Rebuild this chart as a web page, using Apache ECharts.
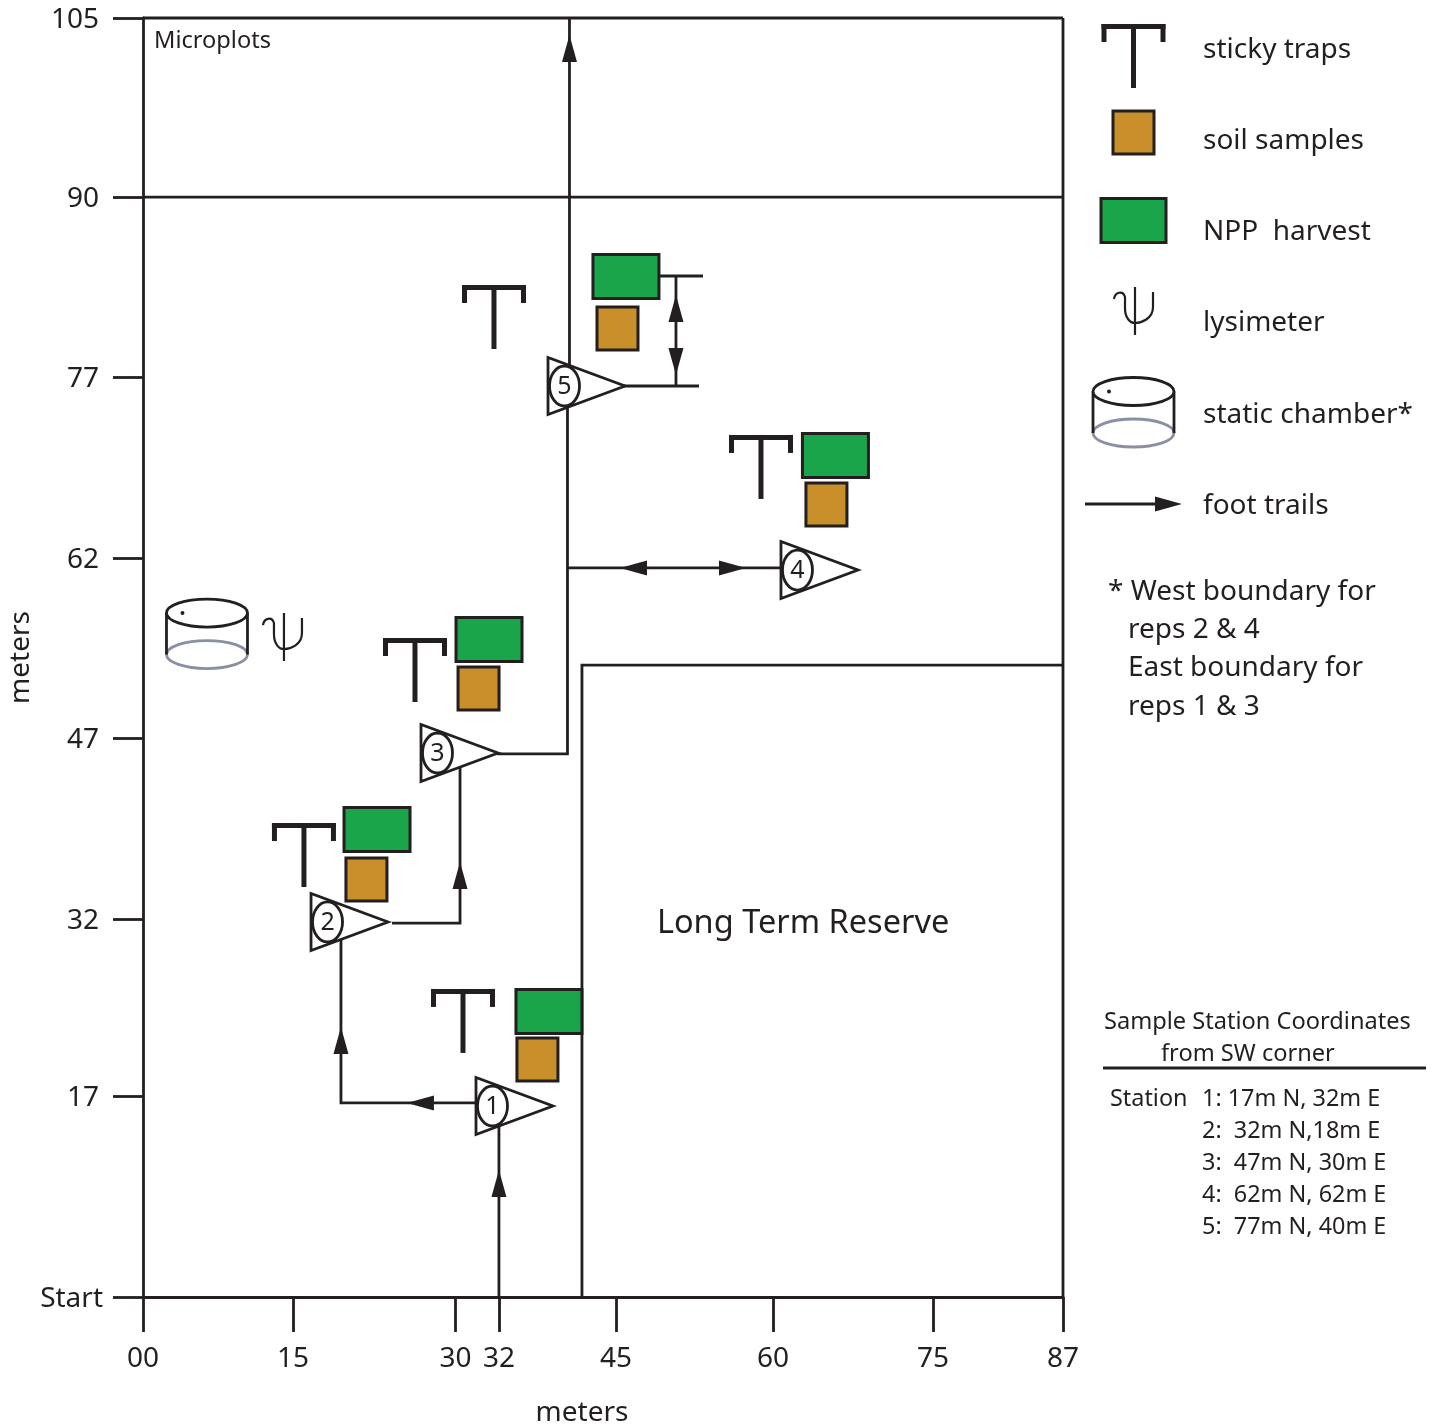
<!DOCTYPE html>
<html><head><meta charset="utf-8">
<style>html,body{margin:0;padding:0;background:#fff}#c{width:1435px;height:1427px}</style>
<script src="https://cdn.jsdelivr.net/npm/echarts@6/dist/echarts.min.js"></script>
</head><body><div id="c"></div>
<script>
// axis ticks (position along the drawn scale) and their printed labels
const xTicks = [0, 14.18, 29.55, 33.66, 44.73, 59.57, 74.70, 87];
const xTickLabels = ['00', '15', '30', '32', '45', '60', '75', '87'];
const yTicks = [0, 16.50, 31.03, 45.89, 60.67, 75.53, 90.30, 105];
const yTickLabels = ['Start', '17', '32', '47', '62', '77', '90', '105'];

// plot marks, in axis units
const stationNames = ['1', '2', '3', '4', '5'];
const stations = [[31.49, 15.68], [15.89, 30.79], [26.29, 44.66], [60.33, 59.68], [38.30, 74.79]];
const traps = [[33.19, 83.08], [25.72, 54.10], [15.22, 38.91], [30.26, 25.29], [58.44, 70.77]];
const nppPlots = [[45.67, 83.78], [32.72, 53.98], [22.13, 38.38], [38.39, 23.44], [65.48, 69.08]];
const soilPlots = [[44.87, 79.51], [31.73, 49.95], [21.13, 34.27], [37.30, 19.50], [64.63, 65.06]];
const lysimeters = [[13.33, 54.26]];
const chambers = [[6.05, 56.15]];
const frameLines = [
  [[0, 105], [87, 105]],
  [[87, 0], [87, 105]],
  [[0, 90.30], [87, 90.30]],
  [[41.51, 0], [41.51, 51.88], [87, 51.88]]
];
const footTrails = [
  [[33.66, 0], [33.66, 15.68]],
  [[31.49, 15.93], [18.72, 15.93], [18.72, 30]],
  [[23.55, 30.70], [29.98, 30.70], [29.98, 44]],
  [[33.48, 44.58], [40.14, 44.58], [40.14, 73]],
  [[40.33, 76], [40.33, 105]],
  [[40.14, 59.85], [60.33, 59.85]],
  [[45.48, 74.79], [52.58, 74.79]],
  [[48.89, 83.82], [52.96, 83.82]],
  [[50.40, 83.82], [50.40, 74.79]]
];
// arrow tip x, tip y, direction code (0 up, 1 right, 2 down, 3 left)
const arrows = [
  [33.66, 10.43, 0], [24.96, 15.93, 3], [18.72, 22.17, 0], [29.98, 35.71, 0],
  [40.33, 103.60, 0], [45.11, 59.85, 3], [57.02, 59.85, 1], [50.40, 82.26, 0], [50.40, 75.69, 2]
];
const plotNotes = ['Microplots', 'Long Term Reserve'];
const plotNoteAt = [[1.04, 103.05], [48.6, 30.65]];

// side panel (legend, notes, table) placed on its own hidden axes
const legendLabels = ['sticky traps', 'soil samples', 'NPP  harvest', 'lysimeter', 'static chamber*', 'foot trails'];
const legendLabelAt = [[140, 50], [140, 141], [140, 232], [140, 323], [140, 415], [140, 506]];
const legendTrap = [[70.5, 24]];
const legendSoil = [[70.5, 132.5]];
const legendNpp = [[70.5, 220.5]];
const legendLysimeter = [[72, 310]];
const legendChamber = [[70.5, 391.5]];
const legendTrail = [[[22, 504], [110, 504]]];
const legendArrow = [[119, 504, 1]];
const noteLines = ['* West boundary for', 'reps 2 & 4', 'East boundary for', 'reps 1 & 3'];
const noteAt = [[45, 592], [65, 630], [65, 668], [65, 707]];
const tableHead = ['Sample Station Coordinates', 'from SW corner'];
const tableHeadAt = [[41, 1022], [98, 1054]];
const tableRule = [[[40, 1068], [363, 1068]]];
const tableRows = ['Station', '1: 17m N, 32m E', '2:  32m N,18m E', '3:  47m N, 30m E', '4:  62m N, 62m E', '5:  77m N, 40m E'];
const tableRowAt = [[47, 1099], [139, 1099], [139, 1131], [139, 1163], [139, 1195], [139, 1227]];

const INK = '#231f20', GREEN = '#1ba54b', BROWN = '#c88f2a', GREY = '#8b8fa3';
const FONT = '"Noto Sans", sans-serif';

const rect = (x, y, w, h, fill, stroke) => ({type: 'rect', shape: {x, y, width: w, height: h},
  style: {fill, stroke: stroke || null, lineWidth: stroke ? 3 : 0}});

function drawTrap(p, api) {
  const [x, y] = api.coord([api.value(0), api.value(1)]);
  return {type: 'group', children: [
    rect(x - 32, y, 64, 5, INK), rect(x - 32, y, 5, 18, INK), rect(x + 27, y, 5, 18, INK), rect(x - 2.5, y, 5, 64, INK)
  ]};
}
const drawBox = (w, h, fill) => (p, api) => {
  const [x, y] = api.coord([api.value(0), api.value(1)]);
  return rect(x - w / 2, y - h / 2, w, h, fill, INK);
};
function drawStation(p, api) {
  const [x, y] = api.coord([api.value(0), api.value(1)]);
  return {type: 'group', children: [
    {type: 'polygon', shape: {points: [[x, y - 28.5], [x, y + 28.5], [x + 77, y]]}, style: {fill: '#fff', stroke: INK, lineWidth: 2.8}},
    {type: 'ellipse', shape: {cx: x + 16.5, cy: y, rx: 15, ry: 20}, style: {fill: '#fff', stroke: INK, lineWidth: 2.8}},
    {type: 'text', style: {x: x + 16.5, y: y + 1, text: stationNames[p.dataIndex], fill: INK, fontFamily: FONT, fontSize: 25, align: 'center', verticalAlign: 'middle'}}
  ]};
}
function drawArrow(p, api) {
  const [x, y] = api.coord([api.value(0), api.value(1)]);
  const d = api.value(2), l = 27, w = 7.5;
  const pts = d === 0 ? [[x, y], [x - w, y + l], [x + w, y + l]]
    : d === 2 ? [[x, y], [x - w, y - l], [x + w, y - l]]
    : d === 1 ? [[x, y], [x - l, y - w], [x - l, y + w]]
    : [[x, y], [x + l, y - w], [x + l, y + w]];
  return {type: 'polygon', shape: {points: pts}, style: {fill: INK}};
}
function drawLysimeter(p, api) {
  const [x, y] = api.coord([api.value(0), api.value(1)]);
  return {type: 'path', x, y, shape: {pathData: 'M0,-23 L0,25 M-21,-11 C-20,-18 -12,-20 -10,-13 L-10,-2 C-10,8 -5,13 0,13 C6,13 18,9 18,-3 L18,-18'},
    style: {fill: null, stroke: INK, lineWidth: 2.2}};
}
function drawChamber(p, api) {
  const [x, y] = api.coord([api.value(0), api.value(1)]);
  const rx = 40.5, ry = 14, dy = 41.5;
  return {type: 'group', children: [
    {type: 'ellipse', shape: {cx: x, cy: y + dy, rx, ry}, style: {fill: '#fff', stroke: GREY, lineWidth: 2.8}},
    {type: 'line', shape: {x1: x - rx, y1: y, x2: x - rx, y2: y + dy}, style: {stroke: INK, lineWidth: 2.8}},
    {type: 'line', shape: {x1: x + rx, y1: y, x2: x + rx, y2: y + dy}, style: {stroke: INK, lineWidth: 2.8}},
    {type: 'ellipse', shape: {cx: x, cy: y, rx, ry}, style: {fill: '#fff', stroke: INK, lineWidth: 2.8}},
    {type: 'circle', shape: {cx: x - 24.5, cy: y, r: 2}, style: {fill: INK}}
  ]};
}
const marks = (data, renderItem, panel, z) => ({type: 'custom', data, renderItem, silent: true, clip: false, z: z || 4,
  xAxisIndex: panel ? 1 : 0, yAxisIndex: panel ? 1 : 0, animation: false});
const lines = (list, panel, width, z) => list.map(data => ({type: 'line', data, symbol: 'none', silent: true, z: z || 2, clip: false,
  xAxisIndex: panel ? 1 : 0, yAxisIndex: panel ? 1 : 0, animation: false, lineStyle: {color: INK, width: width || 2.8, join: 'miter'}}));
const texts = (strings, at, size, panel) => marks(at, (p, api) => {
  const [x, y] = api.coord([api.value(0), api.value(1)]);
  return {type: 'text', style: {x, y, text: strings[p.dataIndex], fill: INK, fontFamily: FONT, fontSize: size, align: 'left', verticalAlign: 'middle'}};
}, panel, 6);
const labelStyle = padding => ({color: INK, fontFamily: FONT, fontSize: 28, padding});

const chart = echarts.init(document.getElementById('c'), null, {renderer: 'canvas'});
chart.setOption({
  animation: false,
  backgroundColor: '#fff',
  grid: [
    {left: 143, top: 18, width: 920, height: 1279, containLabel: false, outerBoundsMode: 'none'},
    {left: 1063, top: 0, width: 372, height: 1427, containLabel: false, outerBoundsMode: 'none'}
  ],
  xAxis: [
    {type: 'value', gridIndex: 0, min: 0, max: 87, splitLine: {show: false},
      name: 'meters', nameLocation: 'middle', nameGap: 102,
      nameTextStyle: {color: INK, fontFamily: FONT, fontSize: 28, padding: [0, 42, 0, 0]},
      axisLine: {lineStyle: {color: INK, width: 2.8}},
      axisTick: {length: 35, customValues: xTicks, lineStyle: {color: INK, width: 2.8}},
      axisLabel: {customValues: xTicks, margin: 48, color: INK, fontFamily: FONT, fontSize: 28,
        formatter: v => xTickLabels[xTicks.indexOf(v)]}},
    {type: 'value', gridIndex: 1, min: 0, max: 372, show: false}
  ],
  yAxis: [
    {type: 'value', gridIndex: 0, min: 0, max: 105, splitLine: {show: false},
      name: 'meters', nameLocation: 'middle', nameGap: 108, nameMoveOverlap: false,
      nameTextStyle: {color: INK, fontFamily: FONT, fontSize: 28},
      axisLine: {lineStyle: {color: INK, width: 2.8}},
      axisTick: {length: 30, customValues: yTicks, lineStyle: {color: INK, width: 2.8}},
      axisLabel: {customValues: yTicks, margin: 40, color: INK, fontFamily: FONT, fontSize: 28,
        rich: {n: labelStyle([4, 4, 0, 0]), s: labelStyle([4, 0, 0, 0])},
        formatter: v => { const t = yTickLabels[yTicks.indexOf(v)]; return (t === 'Start' ? '{s|' : '{n|') + t + '}'; }}},
    {type: 'value', gridIndex: 1, min: 0, max: 1427, inverse: true, show: false}
  ],
  series: [
    ...lines(frameLines),
    ...lines(footTrails),
    marks(arrows, drawArrow, false, 3),
    marks(traps, drawTrap),
    marks(nppPlots, drawBox(66, 44, GREEN)),
    marks(soilPlots, drawBox(41, 43, BROWN)),
    marks(stations, drawStation, false, 5),
    marks(lysimeters, drawLysimeter),
    marks(chambers, drawChamber),
    texts(plotNotes.slice(0, 1), plotNoteAt.slice(0, 1), 23.6),
    texts(plotNotes.slice(1), plotNoteAt.slice(1), 32.5),
    marks(legendTrap, drawTrap, true),
    marks(legendSoil, drawBox(41, 43, BROWN), true),
    marks(legendNpp, drawBox(65, 44, GREEN), true),
    marks(legendLysimeter, drawLysimeter, true),
    marks(legendChamber, drawChamber, true),
    ...lines(legendTrail, true),
    marks(legendArrow, drawArrow, true, 3),
    texts(legendLabels, legendLabelAt, 28, true),
    texts(noteLines, noteAt, 28, true),
    texts(tableHead, tableHeadAt, 23.6, true),
    ...lines(tableRule, true),
    texts(tableRows, tableRowAt, 23.4, true)
  ]
});
</script></body></html>
